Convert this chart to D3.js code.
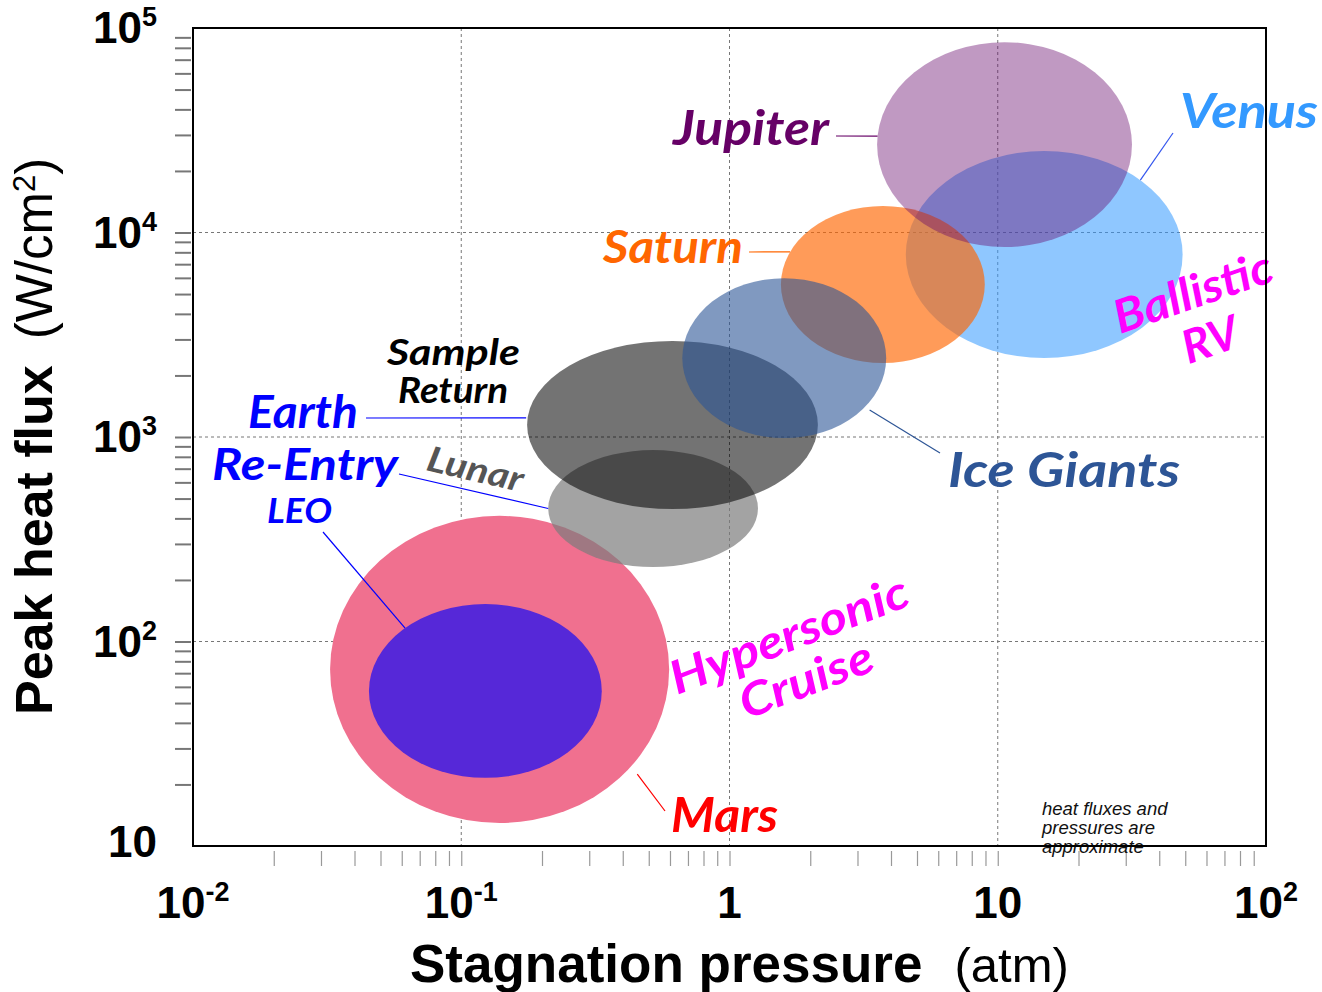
<!DOCTYPE html>
<html>
<head>
<meta charset="utf-8">
<script src="https://cdn.jsdelivr.net/npm/d3@7"></script>
<style>
  body { margin: 0; background: #fff; }
  svg { display: block; }
</style>
</head>
<body>
<div id="chart"></div>
<script>
// ---- data: entry regimes as ellipses in log-log space ----
var regimes        = ["Mars", "LEO", "Lunar", "Sample Return", "Venus", "Saturn", "Ice Giants", "Jupiter"];
var centerPressure = [0.139, 0.123, 0.519, 0.613, 14.9, 3.73, 1.60, 10.6];   // atm
var centerFlux     = [73, 57.3, 447, 1145, 7800, 5570, 2430, 26900];         // W/cm2
var halfDecadesP   = [0.632, 0.434, 0.391, 0.542, 0.516, 0.380, 0.380, 0.475];
var halfDecadesQ   = [0.751, 0.425, 0.286, 0.411, 0.506, 0.384, 0.391, 0.501];
var regimeColors   = ["#f0708f", "#5628d8", "rgb(124,124,124)", "#000000", "#3399ff", "rgb(255,101,0)", "rgb(43,85,150)", "rgb(102,7,107)"];
var regimeOpacity  = [1, 1, 0.7, 0.55, 0.55, 0.65, 0.6, 0.41];

var xTickLabels = [["10", "-2"], ["10", "-1"], ["1", ""], ["10", ""], ["10", "2"]];
var xTickValues = [0.01, 0.1, 1, 10, 100];
var yTickLabels = [["10", ""], ["10", "2"], ["10", "3"], ["10", "4"], ["10", "5"]];
var yTickValues = [10, 100, 1000, 10000, 100000];

var svgwidth = 1322, svgheight = 992;
var plot = { left: 193, right: 1266, top: 28, bottom: 846 };

var svg = d3.select("#chart").append("svg")
  .attr("width", svgwidth)
  .attr("height", svgheight);

var x = d3.scaleLog().domain([0.01, 100]).range([plot.left, plot.right]);
var y = d3.scaleLog().domain([10, 100000]).range([plot.bottom, plot.top]);

// dashed grid at the decades
svg.append("g").selectAll("line")
  .data(xTickValues.slice(1, -1))
  .enter().append("line")
  .attr("x1", d => x(d)).attr("x2", d => x(d))
  .attr("y1", plot.top).attr("y2", plot.bottom)
  .attr("stroke", "#777").attr("stroke-width", 1).attr("stroke-dasharray", "3,3");
svg.append("g").selectAll("line")
  .data(yTickValues.slice(1, -1))
  .enter().append("line")
  .attr("y1", d => y(d)).attr("y2", d => y(d))
  .attr("x1", plot.left).attr("x2", plot.right)
  .attr("stroke", "#777").attr("stroke-width", 1).attr("stroke-dasharray", "3,3");

// ellipses
function ell(i) {
  var cx = x(centerPressure[i]), cy = y(centerFlux[i]);
  var rx = x(centerPressure[i] * Math.pow(10, halfDecadesP[i])) - cx;
  var ry = cy - y(centerFlux[i] * Math.pow(10, halfDecadesQ[i]));
  return { cx: cx, cy: cy, rx: rx, ry: ry };
}
svg.append("g").selectAll("ellipse")
  .data(regimes)
  .enter().append("ellipse")
  .attr("cx", (d, i) => ell(i).cx)
  .attr("cy", (d, i) => ell(i).cy)
  .attr("rx", (d, i) => ell(i).rx)
  .attr("ry", (d, i) => ell(i).ry)
  .attr("fill", (d, i) => regimeColors[i])
  .attr("fill-opacity", (d, i) => regimeOpacity[i]);

// minor ticks, detached from the frame (none at the domain ends)
var inner = (sc) => sc.ticks().filter(v => v > sc.domain()[0] * 1.001 && v < sc.domain()[1] * 0.999);

var yaxis = d3.axisLeft(y).tickValues(inner(y)).tickSize(16).tickFormat("").tickSizeOuter(0);
var gy = svg.append("g").attr("transform", "translate(191,0)").call(yaxis);
gy.select(".domain").remove();
gy.selectAll("line").attr("stroke", "#777").attr("stroke-width", 2);

var xaxis = d3.axisBottom(x).tickValues(inner(x)).tickSize(15).tickFormat("").tickSizeOuter(0);
var gx = svg.append("g").attr("transform", "translate(0,851)").call(xaxis);
gx.select(".domain").remove();
gx.selectAll("line").attr("stroke", "#999").attr("stroke-width", 1.2);

// tick labels
var tickFont = "'Liberation Sans', Arial, sans-serif";
var xl = svg.append("g").selectAll("text")
  .data(xTickValues)
  .enter().append("text")
  .attr("x", d => x(d)).attr("y", 918)
  .attr("text-anchor", "middle")
  .attr("font-family", tickFont).attr("font-weight", "bold").attr("font-size", 44);
xl.append("tspan").text((d, i) => xTickLabels[i][0]);
xl.append("tspan").attr("dy", -17).attr("font-size", 27).text((d, i) => xTickLabels[i][1]);

var yl = svg.append("g").selectAll("text")
  .data(yTickValues)
  .enter().append("text")
  .attr("x", 157).attr("y", (d, i) => y(d) + (i == 0 ? 11 : 15))
  .attr("text-anchor", "end")
  .attr("font-family", tickFont).attr("font-weight", "bold").attr("font-size", 44);
yl.append("tspan").text((d, i) => yTickLabels[i][0]);
yl.append("tspan").attr("dy", -17).attr("font-size", 27).text((d, i) => yTickLabels[i][1]);

// axis titles
var xt = svg.append("text").attr("x", 410).attr("y", 982)
  .attr("font-family", tickFont).attr("font-size", 53);
xt.append("tspan").attr("font-weight", "bold").text("Stagnation pressure");
xt.append("tspan").attr("dx", 32).attr("font-size", 49).text("(atm)");

var yt = svg.append("text").attr("transform", "translate(52,715) rotate(-90)")
  .attr("font-family", tickFont).attr("font-size", 52);
yt.append("tspan").attr("font-weight", "bold").text("Peak heat flux");
yt.append("tspan").attr("dx", 26).attr("font-size", 51).text("(W/cm");
yt.append("tspan").attr("dy", -17).attr("font-size", 31).text("2");
yt.append("tspan").attr("dy", 17).attr("font-size", 51).text(")");

// leader lines: label side in pixels, other end on an ellipse edge
var leaders = [
  { from: [836, 136], to: 7, t: 184.8, f: 1.0, c: "#660066" },
  { from: [749, 252], to: 5, t: 204.5, f: 1.0, c: "#ff6600" },
  { from: [1173, 133], to: 4, t: -46, f: 1.0, c: "#3355ee" },
  { from: [940, 453], to: 6, t: 37.8, f: 1.06, c: "#2d5596" },
  { from: [366, 418], to: 3, t: 184.8, f: 1.01, c: "#0000ff" },
  { from: [399, 474], to: 2, t: 180, f: 1.0, c: "#0000ff" },
  { from: [323, 532], to: 1, t: 226.4, f: 1.0, c: "#0000ff" },
  { from: [665, 811], to: 0, t: 40, f: 1.06, c: "#ff0000" }
];
svg.append("g").selectAll("line")
  .data(leaders)
  .enter().append("line")
  .attr("x1", d => d.from[0]).attr("y1", d => d.from[1])
  .attr("x2", d => { var e = ell(d.to); return e.cx + d.f * e.rx * Math.cos(d.t * Math.PI / 180); })
  .attr("y2", d => { var e = ell(d.to); return e.cy + d.f * e.ry * Math.sin(d.t * Math.PI / 180); })
  .attr("stroke", d => d.c).attr("stroke-width", 1.2);

// annotation labels
var labelFont = "Lato, 'Open Sans', sans-serif";
var labels = [
  { t: "Jupiter", x: 673, y: 145, s: 48, w: 156, c: "#660066" },
  { t: "Venus", x: 1180, y: 128, s: 47, w: 138, c: "#3399ff" },
  { t: "Saturn", x: 603, y: 263, s: 46, w: 140, c: "#ff6600" },
  { t: "Ice Giants", x: 948, y: 487, s: 47, w: 232, c: "#2d5596" },
  { t: "Mars", x: 671, y: 832, s: 47, w: 107, c: "#ff0000" },
  { t: "Earth", x: 248, y: 428, s: 46, w: 110, c: "#0000ff" },
  { t: "Re-Entry", x: 212, y: 480, s: 44, w: 186, c: "#0000ff" },
  { t: "LEO", x: 267, y: 523, s: 35, w: 65, c: "#0000ff" },
  { t: "Sample", x: 387, y: 365, s: 37, w: 133, c: "#000000" },
  { t: "Return", x: 398, y: 403, s: 37, w: 110, c: "#000000" },
  { t: "Lunar", x: 425, y: 470, s: 35, w: 98, c: "#555555", r: 13 },
  { t: "Hypersonic", x: 677, y: 695, s: 46, w: 252, c: "#ff00ff", r: -21 },
  { t: "Cruise", x: 677, y: 695, s: 46, w: 140, c: "#ff00ff", r: -21, dx: 56, dy: 48 },
  { t: "Ballistic", x: 1120, y: 334, s: 46, w: 165, c: "#ff00ff", r: -19 },
  { t: "RV", x: 1120, y: 334, s: 46, w: 57, c: "#ff00ff", r: -19, dx: 55, dy: 51 }
];
svg.append("g").selectAll("text")
  .data(labels)
  .enter().append("text")
  .attr("transform", d => `translate(${d.x},${d.y}) rotate(${d.r || 0})`)
  .attr("x", d => d.dx || 0).attr("y", d => d.dy || 0)
  .attr("font-family", labelFont).attr("font-weight", "bold").attr("font-style", "italic")
  .attr("font-size", d => d.s)
  .attr("textLength", d => d.w).attr("lengthAdjust", "spacingAndGlyphs")
  .attr("fill", d => d.c)
  .text(d => d.t);

// footnote
var note = ["heat fluxes and", "pressures are", "approximate"];
svg.append("g").selectAll("text")
  .data(note)
  .enter().append("text")
  .attr("x", 1042).attr("y", (d, i) => 815 + i * 19)
  .attr("font-family", tickFont).attr("font-style", "italic").attr("font-size", 18.5)
  .attr("fill", "#111")
  .text(d => d);

// frame on top
svg.append("rect")
  .attr("x", plot.left).attr("y", plot.top)
  .attr("width", plot.right - plot.left).attr("height", plot.bottom - plot.top)
  .attr("fill", "none").attr("stroke", "#000").attr("stroke-width", 2);
</script>
</body>
</html>
